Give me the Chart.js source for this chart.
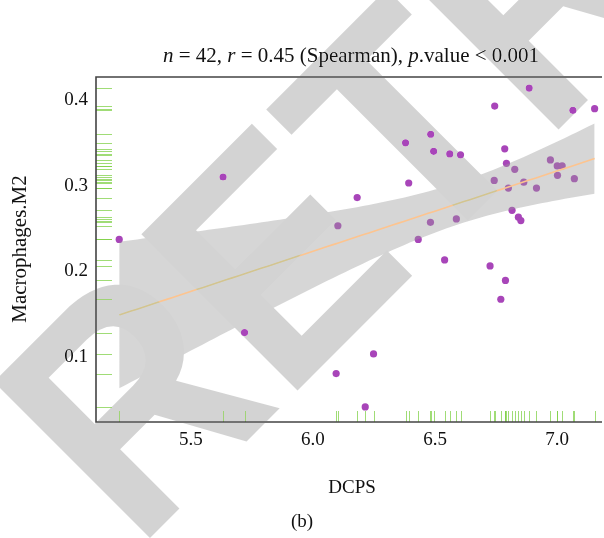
<!DOCTYPE html>
<html>
<head>
<meta charset="utf-8">
<script src="https://cdn.jsdelivr.net/npm/chart.js@4"></script>
<style>
  body { margin: 0; background: #fff; overflow: hidden; }
  canvas { display: block; }
</style>
</head>
<body>
<canvas id="canvas-chart" width="604" height="538"></canvas>
<script>
// values
const dcps = [6.885, 6.744, 7.064, 7.153, 6.379, 6.482, 6.494, 6.560, 6.604, 6.785,
              6.792, 6.826, 6.742, 6.800, 6.863, 6.915, 6.972, 7.000, 7.020, 7.001,
              7.070, 6.181, 6.392, 6.102, 6.481, 6.587, 6.815, 6.841, 6.851, 6.431,
              5.632, 5.207, 5.720, 6.095, 6.539, 6.725, 6.788, 6.769, 6.248, 6.214];
const m2 = [0.414, 0.393, 0.388, 0.390, 0.350, 0.360, 0.340, 0.337, 0.336, 0.343,
            0.326, 0.319, 0.306, 0.297, 0.304, 0.297, 0.330, 0.323, 0.323, 0.312,
            0.308, 0.286, 0.303, 0.253, 0.257, 0.261, 0.271, 0.263, 0.259, 0.237,
            0.310, 0.237, 0.128, 0.080, 0.213, 0.206, 0.189, 0.167, 0.103, 0.041];
const xTicks = [5.5, 6.0, 6.5, 7.0];
const yTicks = [0.1, 0.2, 0.3, 0.4];

const serif = '"Liberation Serif", "Times New Roman", serif';

// linear fit with 95% confidence band
const n = dcps.length;
const mx = dcps.reduce((a, b) => a + b, 0) / n;
const my = m2.reduce((a, b) => a + b, 0) / n;
let sxx = 0, sxy = 0;
for (let i = 0; i < n; i++) {
  sxx += (dcps[i] - mx) ** 2;
  sxy += (dcps[i] - mx) * (m2[i] - my);
}
const slope = sxy / sxx;
const icpt = my - slope * mx;
let sse = 0;
for (let i = 0; i < n; i++) sse += (m2[i] - icpt - slope * dcps[i]) ** 2;
const s = Math.sqrt(sse / (n - 2));
const tq = 2.024;
const xmin = Math.min(...dcps), xmax = Math.max(...dcps);
const fit = [], upper = [], lower = [];
for (let k = 0; k <= 80; k++) {
  const x = xmin + (xmax - xmin) * k / 80;
  const y = icpt + slope * x;
  const se = s * Math.sqrt(1 / n + (x - mx) ** 2 / sxx);
  fit.push({x: x, y: y});
  upper.push({x: x, y: y + tq * se});
  lower.push({x: x, y: y - tq * se});
}
const points = dcps.map((x, i) => ({x: x, y: m2[i]}));

const decor = {
  id: 'decor',
  beforeDraw(chart) {
    const c = chart.ctx;
    c.save();
    c.fillStyle = '#fff';
    c.fillRect(0, 0, chart.width, chart.height);
    c.restore();
  },
  afterDraw(chart) {
    const c = chart.ctx;
    const a = chart.chartArea;
    const xs = chart.scales.x, ys = chart.scales.y;
    c.save();
    // rugs
    c.strokeStyle = 'rgba(120,205,60,0.7)';
    c.lineWidth = 1;
    dcps.forEach(v => {
      const px = Math.round(xs.getPixelForValue(v)) + 0.5;
      c.beginPath(); c.moveTo(px, a.bottom); c.lineTo(px, a.bottom - 11); c.stroke();
    });
    m2.forEach(v => {
      const py = Math.round(ys.getPixelForValue(v)) + 0.5;
      c.beginPath(); c.moveTo(a.left, py); c.lineTo(a.left + 16, py); c.stroke();
    });
    // panel border
    c.strokeStyle = '#444';
    c.lineWidth = 1.6;
    c.beginPath();
    c.moveTo(a.right + 2, a.top); c.lineTo(a.left, a.top);
    c.lineTo(a.left, a.bottom); c.lineTo(a.right + 2, a.bottom);
    c.stroke();

    // title with italic letters
    const parts = [['n', 1], [' = 42, ', 0], ['r', 1], [' = 0.45 (Spearman), ', 0], ['p', 1], ['.value < 0.001', 0]];
    const fnt = it => (it ? 'italic ' : '') + '21px ' + serif;
    let tw = 0;
    parts.forEach(p => { c.font = fnt(p[1]); tw += c.measureText(p[0]).width; });
    let tx = 351 - tw / 2;
    c.fillStyle = '#111';
    c.textBaseline = 'middle';
    c.textAlign = 'left';
    parts.forEach(p => { c.font = fnt(p[1]); c.fillText(p[0], tx, 56); tx += c.measureText(p[0]).width; });

    c.textAlign = 'center';
    c.font = '19px ' + serif;
    c.fillText('DCPS', 352, 488);
    c.fillText('(b)', 302, 522);
    c.save();
    c.translate(20, 249);
    c.rotate(-Math.PI / 2);
    c.font = '21px ' + serif;
    c.fillText('Macrophages.M2', 0, 0);
    c.restore();

    // watermark
    c.globalCompositeOperation = 'darken';
    c.fillStyle = '#d3d3d3';
    c.font = 'bold 321px "Liberation Sans", Arial, sans-serif';
    c.textAlign = 'left';
    c.textBaseline = 'alphabetic';
    const off = c.measureText('RE').width + c.measureText('T').width / 2;
    c.translate(482.5, 205.5);
    c.rotate(-Math.PI / 4);
    c.scale(0.9, 1);
    c.fillText('RETRACTED', -off, 0);
    c.restore();
  }
};

const ctx = document.getElementById('canvas-chart');

new Chart(ctx, {
  type: 'scatter',
  data: {
    datasets: [{
      type: 'line',
      data: fit,
      borderColor: '#fdc48f',
      borderWidth: 1.6,
      pointRadius: 0,
      fill: false
    }, {
      type: 'line',
      data: upper,
      borderWidth: 0,
      pointRadius: 0,
      backgroundColor: 'rgba(153,153,153,0.4)',
      fill: '+1'
    }, {
      type: 'line',
      data: lower,
      borderWidth: 0,
      pointRadius: 0,
      fill: false
    }, {
      data: points,
      backgroundColor: '#a845b9',
      borderWidth: 0,
      pointRadius: 3.6
    }]
  },
  options: {
    responsive: false,
    animation: false,
    events: [],
    plugins: {
      legend: { display: false },
      tooltip: { enabled: false }
    },
    layout: {
      padding: { top: 77, right: 0, bottom: 0, left: 0 }
    },
    scales: {
      x: {
        type: 'linear',
        min: 5.112,
        max: 7.175,
        afterFit(sc) { sc.height = 116; },
        afterBuildTicks(sc) { sc.ticks = xTicks.map(v => ({value: v})); },
        grid: { display: false, drawTicks: false },
        border: { display: false },
        ticks: {
          padding: 7,
          color: '#111',
          maxRotation: 0,
          font: { family: serif, size: 19 },
          callback: v => v.toFixed(1)
        }
      },
      y: {
        type: 'linear',
        min: 0.0234,
        max: 0.427,
        afterFit(sc) { sc.width = 96; },
        afterBuildTicks(sc) { sc.ticks = yTicks.map(v => ({value: v})); },
        grid: { display: false, drawTicks: false },
        border: { display: false },
        ticks: {
          padding: 8,
          color: '#111',
          font: { family: serif, size: 19 },
          callback: v => v.toFixed(1)
        }
      }
    }
  },
  plugins: [decor]
});
</script>
</body>
</html>
